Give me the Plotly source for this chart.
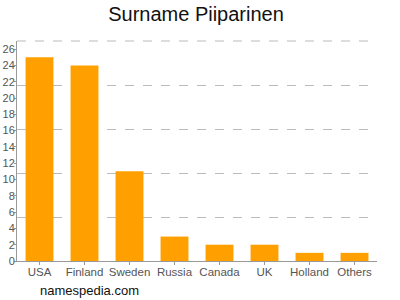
import plotly.graph_objects as go

countries = ["USA", "Finland", "Sweden", "Russia", "Canada", "UK", "Holland", "Others"]
counts = [25, 24, 11, 3, 2, 2, 1, 1]
y_ticks = list(range(0, 27, 2))
grid_vals = [5.4, 10.8, 16.2, 21.6, 27]

fig = go.Figure()
fig.add_trace(go.Bar(x=countries, y=counts, marker_color="#ffa000",
                     marker_line_width=0, width=0.62))
fig.add_trace(go.Scatter(x=countries, y=[None]*len(countries), yaxis="y2",
                         showlegend=False, hoverinfo="skip"))

fig.update_layout(
    width=400, height=300,
    margin=dict(l=17, r=23, t=41, b=39, autoexpand=False),
    paper_bgcolor="white", plot_bgcolor="white",
    showlegend=False,
    font=dict(family="Liberation Sans, Arial, sans-serif"),
    title=dict(text="Surname Piiparinen", x=0.49, xanchor="center", y=0.955, yanchor="middle",
               font=dict(size=20, color="#111")),
    xaxis=dict(showline=True, linecolor="#999", linewidth=1, ticks="outside",
               ticklen=3, tickcolor="#999", tickfont=dict(size=11.5, color="#555"),
               tickangle=0, showgrid=False, automargin=False, ticklabelstandoff=-3),
    yaxis=dict(range=[0, 27], tickvals=y_ticks, showline=True, linecolor="#999",
               linewidth=1, ticks="outside", ticklen=2, tickcolor="#999",
               tickfont=dict(size=11, color="#555"), showgrid=False, zeroline=False,
               automargin=False, ticklabelstandoff=-3),
    yaxis2=dict(range=[0, 27], overlaying="y", tickvals=grid_vals, showticklabels=False,
                showgrid=True, gridcolor="#bbb", griddash="dash", gridwidth=1,
                zeroline=False, showline=False, ticks="", automargin=False),
    shapes=[dict(type="line", xref="paper", yref="paper", x0=0, x1=1, y0=1, y1=1,
                 line=dict(color="#bbb", width=1, dash="dash"), layer="below")],
    annotations=[dict(text="namespedia.com", x=0.058, y=-0.135, xref="paper", yref="paper",
                      xanchor="left", yanchor="middle", showarrow=False,
                      font=dict(size=13, color="#111"))],
)
fig.write_html("out.html")
